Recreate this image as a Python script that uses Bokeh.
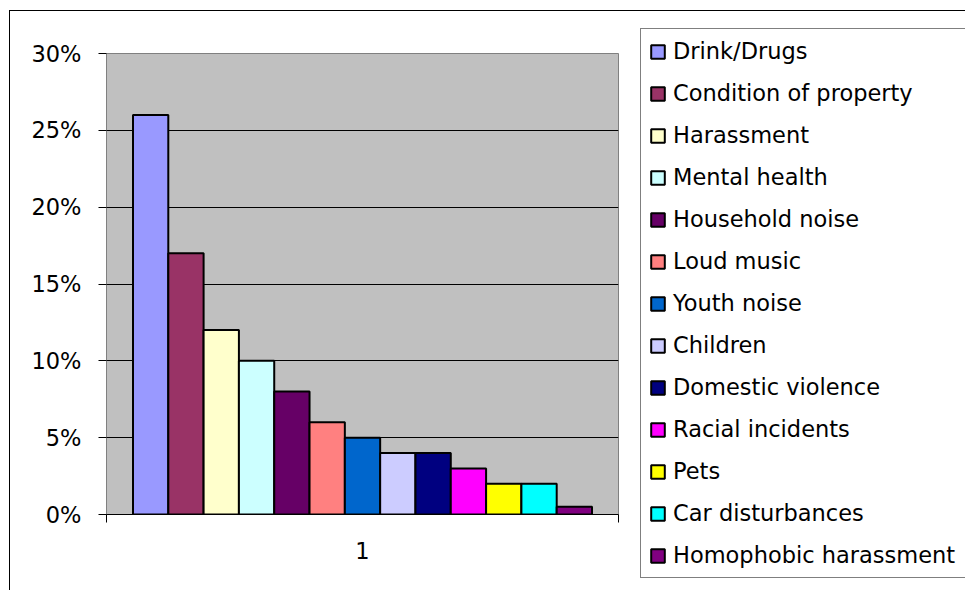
from bokeh.plotting import figure
from bokeh.models import Range1d, FixedTicker, NumeralTickFormatter, Legend, LegendItem, ColumnDataSource
from bokeh.embed import file_html
from bokeh.resources import INLINE

categories = ["Drink/Drugs", "Condition of property", "Harassment", "Mental health",
              "Household noise", "Loud music", "Youth noise", "Children",
              "Domestic violence", "Racial incidents", "Pets", "Car disturbances",
              "Homophobic harassment"]
values = [0.26, 0.17, 0.12, 0.10, 0.08, 0.06, 0.05, 0.04, 0.04, 0.03, 0.02, 0.02, 0.005]
colors = ["#9999FF", "#993366", "#FFFFCC", "#CCFFFF", "#660066", "#FF8080", "#0066CC",
          "#CCCCFF", "#000080", "#FF00FF", "#FFFF00", "#00FFFF", "#800080"]
group_labels = ["1"]
y_ticks = [0.0, 0.05, 0.10, 0.15, 0.20, 0.25, 0.30]

FONT = "DejaVu Sans"
FS = "22.5px"

n = len(categories)
gap_width = 1.5
bar_w = 1.0 / (n + gap_width)
xs = [gap_width / 2 * bar_w + (i + 0.5) * bar_w for i in range(n)]

p = figure(frame_width=512, frame_height=461, output_backend="svg", toolbar_location=None,
           x_range=Range1d(0, 1), y_range=Range1d(0, 0.30),
           min_border_left=96, min_border_top=42, min_border_bottom=77, min_border_right=0,
           margin=(10, 0, 0, 9),
           styles={"border-left": "1px solid #000000", "border-top": "1px solid #000000"})
p.background_fill_color = "#C0C0C0"
p.border_fill_color = "white"
p.outline_line_color = "#808080"
p.outline_line_width = 1

items = []
for i in range(n):
    src = ColumnDataSource(dict(x=[xs[i]], top=[values[i]]))
    r = p.vbar(x="x", top="top", bottom=0, width=bar_w, source=src,
               fill_color=colors[i], line_color="black", line_width=2)
    items.append(LegendItem(label=categories[i], renderers=[r]))

# y axis
p.yaxis.ticker = FixedTicker(ticks=y_ticks)
p.yaxis.formatter = NumeralTickFormatter(format="0%")
p.yaxis.axis_line_color = None
p.yaxis.major_tick_out = 8
p.yaxis.major_tick_in = 0
p.yaxis.major_tick_line_color = "black"
p.yaxis.minor_tick_line_color = None
p.yaxis.major_label_standoff = 17
p.yaxis.major_label_text_font = FONT
p.yaxis.major_label_text_font_size = FS
p.yaxis.major_label_text_color = "black"

# x axis
p.xaxis.ticker = FixedTicker(ticks=[0.5], minor_ticks=[0.0, 1.0])
p.xaxis.major_label_overrides = {0.5: group_labels[0]}
p.xaxis.axis_line_color = "black"
p.xaxis.major_tick_line_color = None
p.xaxis.major_tick_out = 0
p.xaxis.major_tick_in = 0
p.xaxis.minor_tick_out = 8
p.xaxis.minor_tick_in = 0
p.xaxis.minor_tick_line_color = "black"
p.xaxis.major_label_standoff = 19
p.xaxis.major_label_text_font = FONT
p.xaxis.major_label_text_font_size = FS
p.xaxis.major_label_text_color = "black"

# grids
p.xgrid.grid_line_color = None
p.ygrid.ticker = FixedTicker(ticks=y_ticks[1:-1])
p.ygrid.grid_line_color = "black"
p.ygrid.grid_line_width = 1

legend = Legend(items=items, location=(22, -64),
                label_text_font=FONT, label_text_font_size=FS, label_text_color="black",
                glyph_width=17, glyph_height=17, label_standoff=7,
                label_height=28, spacing=14, padding=8, label_width=289,
                border_line_color="black", border_line_width=1,
                background_fill_color="white", background_fill_alpha=1.0,
                margin=0)
p.add_layout(legend, "right")

open("out.html", "w").write(file_html(p, INLINE))
